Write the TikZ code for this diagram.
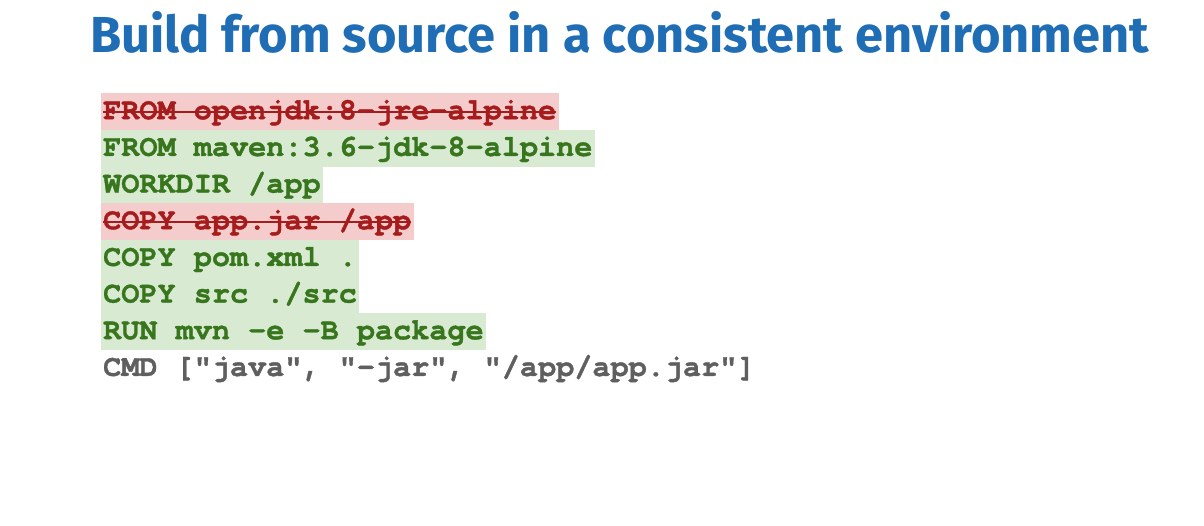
\documentclass[tikz,border=0pt]{standalone}
\usepackage{fontspec}
\setmainfont{Fira Sans}
\setmonofont[BoldFeatures={FakeBold=1.2}]{TeX Gyre Cursor}
\definecolor{titleblue}{HTML}{1F6DB5}
\definecolor{redbg}{HTML}{F4CCCC}
\definecolor{redtxt}{HTML}{A61C1C}
\definecolor{greenbg}{HTML}{D9EAD3}
\definecolor{greentxt}{HTML}{38761D}
\definecolor{graytxt}{HTML}{5F5F5F}
\tikzset{
  titletext/.style={font=\fontsize{50.6}{60}\selectfont\bfseries, text=titleblue, inner sep=0pt, anchor=base west},
  codeline/.style={font=\ttfamily\bfseries\fontsize{30.2}{36}\selectfont, inner xsep=2.5pt, inner ysep=0pt,
    text height=26pt, text depth=10.67pt, anchor=north west},
  removed/.style={codeline, fill=redbg, text=redtxt},
  added/.style={codeline, fill=greenbg, text=greentxt},
  kept/.style={codeline, text=graytxt},
  strike/.style={draw=redtxt, line width=2pt}
}
\begin{document}
\begin{tikzpicture}[x=1pt,y=-1pt]
\useasboundingbox[fill=white] (0,0) rectangle (1204,526);
\node[titletext] (title) at (90,53) {Build from source in a consistent environment};
\node[removed] (r1) at (100.5,93) {FROM openjdk:8-jre-alpine};
\node[added]   (r2) at (100.5,129.67) {FROM maven:3.6-jdk-8-alpine};
\node[added]   (r3) at (100.5,166.33) {WORKDIR /app};
\node[removed] (r4) at (100.5,203) {COPY app.jar /app};
\node[added]   (r5) at (100.5,239.67) {COPY pom.xml .};
\node[added]   (r6) at (100.5,276.33) {COPY src ./src};
\node[added]   (r7) at (100.5,313) {RUN mvn -e -B package};
\node[kept]    (r8) at (100.5,349.67) {CMD ["java", "-jar", "/app/app.jar"]};
\draw[strike] ([xshift=2.5pt,yshift=7pt]r1.base west) -- ([xshift=-2.5pt,yshift=7pt]r1.base east);
\draw[strike] ([xshift=2.5pt,yshift=7pt]r4.base west) -- ([xshift=-2.5pt,yshift=7pt]r4.base east);
\end{tikzpicture}
\end{document}
